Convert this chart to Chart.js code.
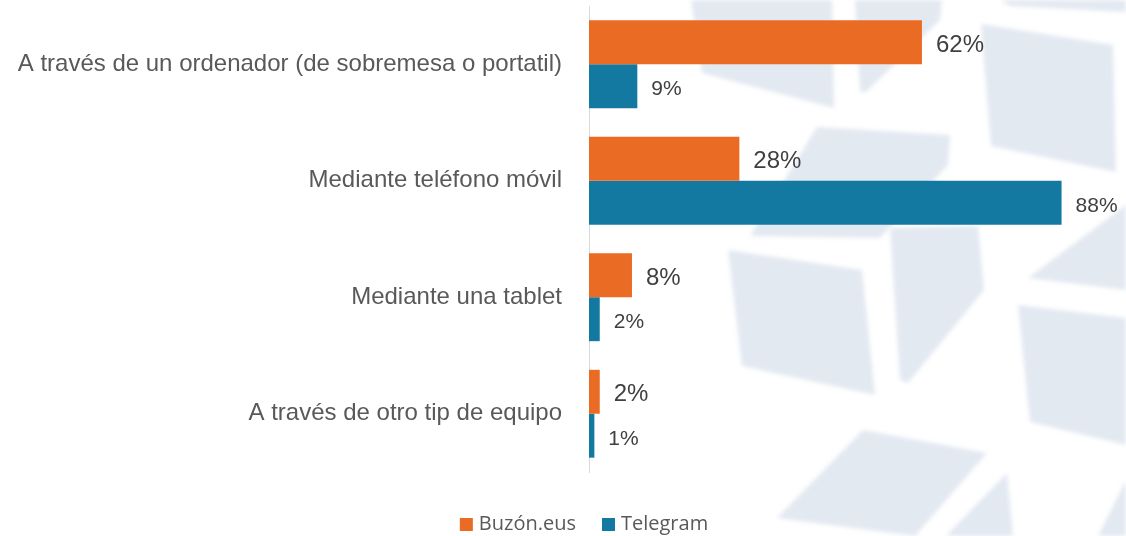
<!DOCTYPE html>
<html>
<head>
<meta charset="utf-8">
<script src="https://cdn.jsdelivr.net/npm/chart.js@4/dist/chart.umd.min.js"></script>
<style>
  html, body { margin: 0; padding: 0; background: #fff; }
  #wrap { width: 1126px; height: 536px; }
</style>
</head>
<body>
<div id="wrap"><canvas id="chart"></canvas></div>
<script>
// Data
const categories = [
    'A través de un ordenador (de sobremesa o portatil)',
    'Mediante teléfono móvil',
    'Mediante una tablet',
    'A través de otro tip de equipo'
];
const seriesNames = ['Buzón.eus', 'Telegram'];
const buzonValues = [62, 28, 8, 2];
const telegramValues = [9, 88, 2, 1];

const orange = '#ea6b23';
const blue = '#1479a0';

// faint watermark shapes behind the chart (decoration only)
const watermark = [
    [[691,0],[832,0],[834,108],[702,73]],
    [[855,0],[942,0],[940,20],[866,92],[860,92]],
    [[981,24],[1113,45],[1116,172],[991,146]],
    [[1000,0],[1126,0],[1126,12],[1010,6]],
    [[817,127],[950,135],[948,165],[880,238],[750,236]],
    [[728,250],[862,270],[875,395],[742,366]],
    [[890,228],[978,226],[984,290],[908,383],[900,380]],
    [[1126,205],[1126,290],[1028,278]],
    [[1018,305],[1126,318],[1126,445],[1030,422]],
    [[863,430],[987,453],[915,536],[777,518]],
    [[1007,473],[1013,536],[946,536]],
    [[1126,480],[1126,536],[1098,536]]
];

const backgroundShapes = {
    id: 'backgroundShapes',
    beforeDraw(chart) {
        const ctx = chart.ctx;
        ctx.save();
        ctx.fillStyle = '#fff';
        ctx.fillRect(0, 0, chart.width, chart.height);
        ctx.filter = 'blur(2px)';
        ctx.fillStyle = '#e3e9f1';
        watermark.forEach(poly => {
            ctx.beginPath();
            poly.forEach(([x, y], i) => i ? ctx.lineTo(x, y) : ctx.moveTo(x, y));
            ctx.closePath();
            ctx.fill();
        });
        ctx.restore();
    }
};

const valueLabels = {
    id: 'valueLabels',
    afterDatasetsDraw(chart) {
        const ctx = chart.ctx;
        ctx.save();
        ctx.fillStyle = '#404040';
        ctx.textBaseline = 'middle';
        ctx.textAlign = 'left';
        chart.data.datasets.forEach((ds, di) => {
            ctx.font = (di === 0 ? '24px' : '21px') + ' "Liberation Sans", Arial, sans-serif';
            chart.getDatasetMeta(di).data.forEach((bar, i) => {
                ctx.fillText(ds.data[i] + '%', bar.x + 14, bar.y + 3);
            });
        });
        ctx.restore();
    }
};

// legend drawn by hand so it can sit low, like the original
const bottomLegend = {
    id: 'bottomLegend',
    afterDraw(chart) {
        const ctx = chart.ctx;
        ctx.save();
        ctx.font = '20px "Open Sans", sans-serif';
        ctx.textBaseline = 'middle';
        ctx.textAlign = 'left';
        const box = 13, gap = 6, between = 26;
        const widths = seriesNames.map(n => ctx.measureText(n).width);
        const total = widths.reduce((a, w) => a + box + gap + w, 0) + between * (seriesNames.length - 1);
        let x = 584 - total / 2;
        const y = 524;
        seriesNames.forEach((name, i) => {
            ctx.fillStyle = chart.data.datasets[i].backgroundColor;
            ctx.fillRect(x, y - 6, box, box);
            ctx.fillStyle = '#595959';
            ctx.fillText(name, x + box + gap, y);
            x += box + gap + widths[i] + between;
        });
        ctx.restore();
    }
};

new Chart(document.getElementById('chart'), {
    type: 'bar',
    data: {
        labels: categories,
        datasets: [
            { label: seriesNames[0], data: buzonValues, backgroundColor: orange },
            { label: seriesNames[1], data: telegramValues, backgroundColor: blue }
        ]
    },
    options: {
        indexAxis: 'y',
        responsive: true,
        maintainAspectRatio: false,
        animation: false,
        layout: { padding: { left: 18, right: 0, top: 6, bottom: 64 } },
        datasets: {
            bar: { categoryPercentage: 0.754, barPercentage: 1 }
        },
        scales: {
            x: { display: false, min: 0, max: 100 },
            y: {
                grid: { display: false, drawTicks: false },
                border: { display: true, color: '#d9d9d9', width: 1 },
                ticks: {
                    color: '#595959',
                    padding: 27,
                    font: { family: '"Liberation Sans", Arial, sans-serif', size: 24 }
                },
                afterFit(scale) {
                    scale.width = 571;
                    scale.paddingTop = 0;
                    scale.paddingBottom = 0;
                }
            }
        },
        plugins: {
            tooltip: { enabled: false },
            legend: { display: false }
        }
    },
    plugins: [backgroundShapes, valueLabels, bottomLegend]
});
</script>
</body>
</html>
